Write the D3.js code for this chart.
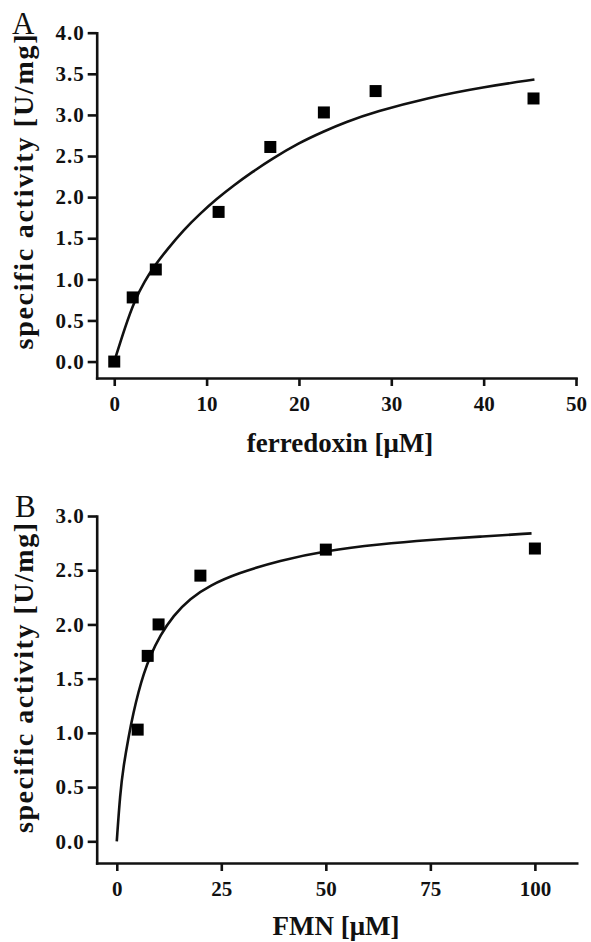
<!DOCTYPE html>
<html>
<head>
<meta charset="utf-8">
<script src="https://cdn.jsdelivr.net/npm/d3@7"></script>
<style>
  html, body { margin: 0; padding: 0; background: #fff; }
  svg { display: block; }
  text { font-family: "Liberation Serif", "Times New Roman", serif; fill: #111; }
</style>
</head>
<body>
<svg id="chart" width="591" height="942"></svg>
<script>
// ---------- Panel A: ferredoxin ----------
const fdxConc      = [0, 2.0, 4.5, 11.3, 16.9, 22.7, 28.3, 45.4];
const fdxActivity  = [0.00, 0.78, 1.12, 1.82, 2.61, 3.03, 3.29, 3.20];
const fdxFitConc   = [0, 1.2, 2.2, 3.3, 4.4, 5.7, 7.5, 9.3, 11.1, 12.9, 15, 17, 20, 22.7, 25, 28.3, 34, 40, 45.5];
const fdxFitAct    = [0, 0.43, 0.74, 0.98, 1.17, 1.36, 1.60, 1.80, 1.98, 2.14, 2.31, 2.46, 2.66, 2.80, 2.91, 3.04, 3.21, 3.34, 3.43];
const fdxXTicks    = [0, 10, 20, 30, 40, 50];
const fdxYTicks    = [0, 0.5, 1.0, 1.5, 2.0, 2.5, 3.0, 3.5, 4.0];

// ---------- Panel B: FMN ----------
const fmnConc      = [5, 7.4, 10, 20, 50, 100];
const fmnActivity  = [1.03, 1.71, 2.00, 2.45, 2.69, 2.70];
const fmnFitConc   = [0, 0.8, 1.6, 2.8, 4.0, 5.2, 6.4, 8.0, 10.4, 13.5, 17.5, 22.3, 28.7, 39, 50, 62.9, 75, 86.8, 99.2];
const fmnFitAct    = [0, 0.44, 0.69, 0.96, 1.19, 1.38, 1.54, 1.71, 1.90, 2.08, 2.24, 2.36, 2.47, 2.59, 2.68, 2.74, 2.78, 2.81, 2.84];
const fmnXTicks    = [0, 25, 50, 75, 100];
const fmnYTicks    = [0, 0.5, 1.0, 1.5, 2.0, 2.5, 3.0];

const yLabel = "specific activity [U/mg]";

const svg = d3.select("#chart");

function panel(cfg) {
  const x = d3.scaleLinear().domain(cfg.xDomain).range(cfg.xRange);
  const y = d3.scaleLinear().domain(cfg.yDomain).range(cfg.yRange);
  const g = svg.append("g");

  // x axis
  const xa = g.append("g")
    .attr("transform", `translate(0,${cfg.yRange[0]})`)
    .call(d3.axisBottom(x).tickValues(cfg.xTicks).tickFormat(d3.format("d"))
      .tickSize(8).tickSizeOuter(0).tickPadding(10));
  // y axis
  const ya = g.append("g")
    .attr("transform", `translate(${cfg.xRange[0]},0)`)
    .call(d3.axisLeft(y).tickValues(cfg.yTicks).tickFormat(d3.format(".1f"))
      .tickSize(9).tickSizeOuter(0).tickPadding(3));

  [xa, ya].forEach(a => {
    a.select(".domain").attr("stroke", "#111").attr("stroke-width", 2.6).attr("stroke-linecap", "square");
    a.selectAll(".tick line").attr("stroke", "#111").attr("stroke-width", 2.6);
    a.selectAll(".tick text")
      .attr("fill", "#111")
      .style("font-family", "'Liberation Serif', serif")
      .style("font-weight", "bold")
      .style("font-size", "21px");
  });
  ya.selectAll(".tick text").style("letter-spacing", "1px");

  // fit curve
  const fit = cfg.fitX.map((v, i) => [v, cfg.fitY[i]]);
  g.append("path")
    .datum(fit)
    .attr("fill", "none")
    .attr("stroke", "#111")
    .attr("stroke-width", 2.6)
    .attr("d", d3.line().x(d => x(d[0])).y(d => y(d[1])).curve(d3.curveBasis));

  // markers
  const pts = cfg.ptsX.map((v, i) => [v, cfg.ptsY[i]]);
  const s = 12;
  g.selectAll("rect.pt").data(pts).join("rect")
    .attr("class", "pt")
    .attr("x", d => x(d[0]) - s / 2)
    .attr("y", d => y(d[1]) - s / 2)
    .attr("width", s).attr("height", s)
    .attr("fill", "#000");

  // y label
  g.append("text")
    .attr("transform", `translate(${cfg.yLabelX},${cfg.yLabelY}) rotate(-90)`)
    .attr("text-anchor", "middle")
    .attr("textLength", cfg.yLabelLen)
    .attr("lengthAdjust", "spacing")
    .style("font-size", "28px").style("font-weight", "bold")
    .text(yLabel);

  // x label
  g.append("text")
    .attr("x", cfg.xLabelX).attr("y", cfg.xLabelY)
    .attr("text-anchor", "middle")
    .style("font-size", "27px").style("font-weight", "bold")
    .text(cfg.xLabel);

  // panel letter
  g.append("text")
    .attr("x", cfg.letterX).attr("y", cfg.letterY)
    .style("font-size", "31px")
    .text(cfg.letter);
}

panel({
  xDomain: [-1.9, 50], xRange: [96.7, 576],
  yDomain: [-0.2, 4.0], yRange: [378, 32.7],
  xTicks: fdxXTicks, yTicks: fdxYTicks,
  fitX: fdxFitConc, fitY: fdxFitAct,
  ptsX: fdxConc, ptsY: fdxActivity,
  yLabelX: 33, yLabelY: 192, yLabelLen: 315,
  xLabel: "ferredoxin [μM]", xLabelX: 340, xLabelY: 452,
  letter: "A", letterX: 12, letterY: 34
});

panel({
  xDomain: [-4.8, 110], xRange: [96.7, 576.7],
  yDomain: [-0.2, 3.0], yRange: [863, 516],
  xTicks: fmnXTicks, yTicks: fmnYTicks,
  fitX: fmnFitConc, fitY: fmnFitAct,
  ptsX: fmnConc, ptsY: fmnActivity,
  yLabelX: 33, yLabelY: 678, yLabelLen: 310,
  xLabel: "FMN [μM]", xLabelX: 336, xLabelY: 935,
  letter: "B", letterX: 15, letterY: 517
});
</script>
</body>
</html>
